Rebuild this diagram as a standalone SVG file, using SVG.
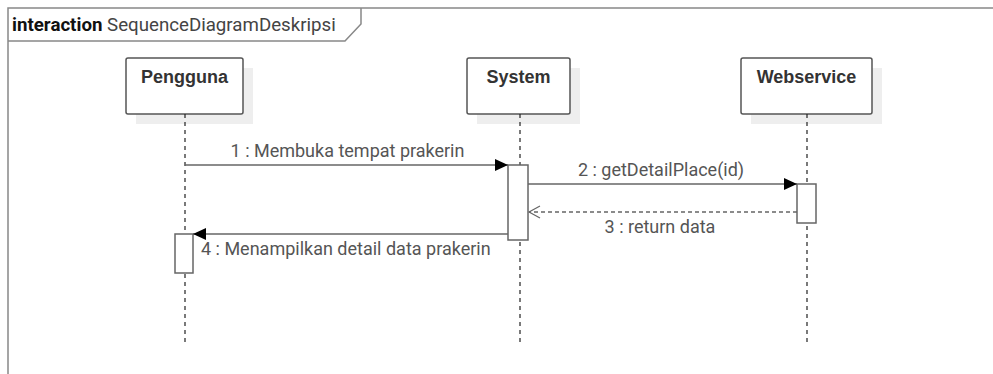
<svg xmlns="http://www.w3.org/2000/svg" width="993" height="374" viewBox="0 0 993 374">
<style>
.frame{fill:none;stroke:#888;stroke-width:1.5}
.box{fill:#fff;stroke:#555;stroke-width:1.5}
.shadow{fill:#eeeeee}
.life{stroke:#222;stroke-width:1.2;stroke-dasharray:4,4}
.act{fill:#fff;stroke:#666;stroke-width:1.5}
.msg{stroke:#666;stroke-width:1.5;fill:none}
.ret{stroke:#666;stroke-width:1.5;fill:none;stroke-dasharray:4,3}
.name{font-family:"Liberation Sans",Arial,sans-serif;font-size:18px;font-weight:bold;fill:#333;text-anchor:middle}
.lbl{font-family:Roboto,"Liberation Sans",sans-serif;font-size:18px;fill:#555}
</style>
<defs>
<marker id="filled" markerWidth="14" markerHeight="12" refX="13" refY="6" orient="auto" markerUnits="userSpaceOnUse">
<path d="M0,0 L13,6 L0,12 Z" fill="#000"/>
</marker>
<marker id="open" markerWidth="14" markerHeight="14" refX="12" refY="7" orient="auto" markerUnits="userSpaceOnUse">
<path d="M1,1 L12,7 L1,13" fill="none" stroke="#666" stroke-width="1.2"/>
</marker>
</defs>
<g id="frame">
<path class="frame" d="M8,374 L8,8 L993,8"/>
<path class="frame" d="M8,41 L345,41 L361,24 L361,8"/>
<text x="12" y="31" font-family="Roboto,'Liberation Sans',sans-serif" font-size="18.7" fill="#111"><tspan font-weight="bold">interaction</tspan><tspan fill="#444"> SequenceDiagramDeskripsi</tspan></text>
</g>
<g id="pengguna">
<rect class="shadow" x="136" y="68" width="117" height="56"/>
<rect class="box" x="126" y="58" width="117" height="56" rx="2"/>
<text class="name" x="184.5" y="83">Pengguna</text>
<line class="life" x1="185" y1="114" x2="185" y2="342"/>
<rect class="act" x="175" y="234" width="18" height="39"/>
</g>
<g id="system">
<rect class="shadow" x="477" y="68" width="103" height="56"/>
<rect class="box" x="467" y="58" width="103" height="56" rx="2"/>
<text class="name" x="518.5" y="83">System</text>
<line class="life" x1="520" y1="114" x2="520" y2="342"/>
<rect class="act" x="508" y="165" width="20" height="75"/>
</g>
<g id="webservice">
<rect class="shadow" x="751" y="68" width="131" height="56"/>
<rect class="box" x="741" y="58" width="131" height="56" rx="2"/>
<text class="name" x="806.5" y="83">Webservice</text>
<line class="life" x1="807" y1="114" x2="807" y2="342"/>
<rect class="act" x="797" y="184" width="19" height="39"/>
</g>
<g id="connectors">
<line class="msg" x1="185" y1="165" x2="508" y2="165" marker-end="url(#filled)"/>
<text class="lbl" x="347.5" y="157" text-anchor="middle">1 : Membuka tempat prakerin</text>
<line class="msg" x1="528" y1="184" x2="797" y2="184" marker-end="url(#filled)"/>
<text class="lbl" x="661" y="176" text-anchor="middle">2 : getDetailPlace(id)</text>
<line class="ret" x1="797" y1="212" x2="529" y2="212" marker-end="url(#open)"/>
<text class="lbl" x="660" y="233" text-anchor="middle">3 : return data</text>
<line class="msg" x1="508" y1="234" x2="193" y2="234" marker-end="url(#filled)"/>
<text class="lbl" x="201" y="255">4 : Menampilkan detail data prakerin</text>
</g>
</svg>
